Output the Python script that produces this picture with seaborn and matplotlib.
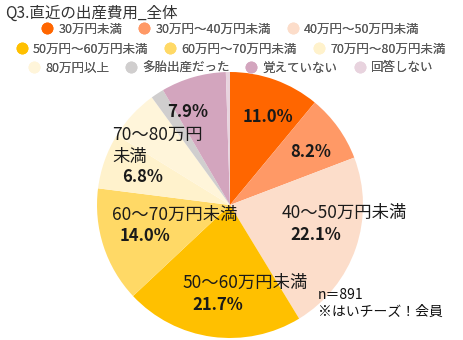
import matplotlib
matplotlib.use("Agg")
import matplotlib.pyplot as plt
import seaborn as sns
import numpy as np
from matplotlib.lines import Line2D

sns.set_theme(style="white")
plt.rcParams['font.family'] = ['Noto Sans CJK JP', 'DejaVu Sans']

# ---- data ----
categories = ["30万円未満", "30万円～40万円未満", "40万円～50万円未満",
              "50万円～60万円未満", "60万円～70万円未満", "70万円～80万円未満",
              "80万円以上", "多胎出産だった", "覚えていない", "回答しない"]
values = [11.0, 8.2, 22.1, 21.7, 14.0, 6.8, 6.2, 1.6, 7.9, 0.5]
label_names = ["", "", "40～50万円未満", "50～60万円未満", "60～70万円未満",
               "70～80万円\n未満", "", "", "", ""]
show_pct = [True, True, True, True, True, True, False, False, True, False]
title = "Q3.直近の出産費用_全体"
note = ["n＝891", "※はいチーズ！会員"]

# ---- style ----
colors = ["#FF6600", "#FF9966", "#FCDDCA", "#FFC000", "#FFD966",
          "#FFF2CC", "#FFF5DA", "#D0CECE", "#D3A5BE", "#E8D3DE"]
# label anchor (left x, y of first line) in axes data units
name_xy = {2: (0.39, -0.06), 3: (-0.36, -0.586), 4: (-0.89, -0.075),
           5: (-0.885, 0.526)}
pct_xy = {0: (0.286, 0.662), 1: (0.609, 0.398), 2: (0.451, -0.226),
          3: (-0.286, -0.752), 4: (-0.827, -0.235), 5: (-0.812, 0.211),
          8: (-0.316, 0.699)}
pct_center = {0, 1, 8}
line_gap = 0.165

W, H = 463, 340
fig = plt.figure(figsize=(W / 100, H / 100), dpi=100)
fig.patch.set_facecolor("white")

cx, cy, r = 230, 205, 133
ax = fig.add_axes([(cx - r) / W, (H - cy - r) / H, 2 * r / W, 2 * r / H])
wedges, _ = ax.pie(values, colors=colors, startangle=90, counterclock=False,
                   radius=1, wedgeprops=dict(linewidth=0))
ax.set_xlim(-1, 1)
ax.set_ylim(-1, 1)
ax.set_aspect("auto")
ax.axis("off")

txt_col = "#1a1a1a"
for i, v in enumerate(values):
    if i in name_xy:
        x, y = name_xy[i]
        for k, line in enumerate(label_names[i].split("\n")):
            ax.text(x, y - k * line_gap, line, ha="left", va="center",
                    fontsize=12.5, color=txt_col)
    if show_pct[i]:
        x, y = pct_xy[i]
        ax.text(x, y, f"{v:.1f}%", ha="center" if i in pct_center else "left",
                va="center", fontsize=12, fontweight="bold", color=txt_col)

fig.text(5 / W, 1 - 13 / H, title, ha="left", va="center", fontsize=11.2,
         color="#333333")
fig.text(318 / W, 1 - 295 / H, note[0], ha="left", va="center", fontsize=10,
         color="#111111")
fig.text(318 / W, 1 - 312 / H, note[1], ha="left", va="center", fontsize=10,
         color="#111111")

handles = [Line2D([0], [0], marker="o", linestyle="none", markersize=7.5,
                  markerfacecolor=c, markeredgecolor=c) for c in colors]
rows = [(0, 3, 29), (3, 6, 49), (6, 10, 68)]
for a, b, yy in rows:
    leg = fig.legend(handles[a:b], categories[a:b], loc="center",
                     bbox_to_anchor=(231 / W, 1 - yy / H), ncol=b - a,
                     frameon=False, fontsize=9, handlelength=0.8,
                     handletextpad=0.5, columnspacing=1.35, borderpad=0,
                     labelcolor="#595959")
    fig.add_artist(leg)

fig.savefig("out.png", dpi=100)
